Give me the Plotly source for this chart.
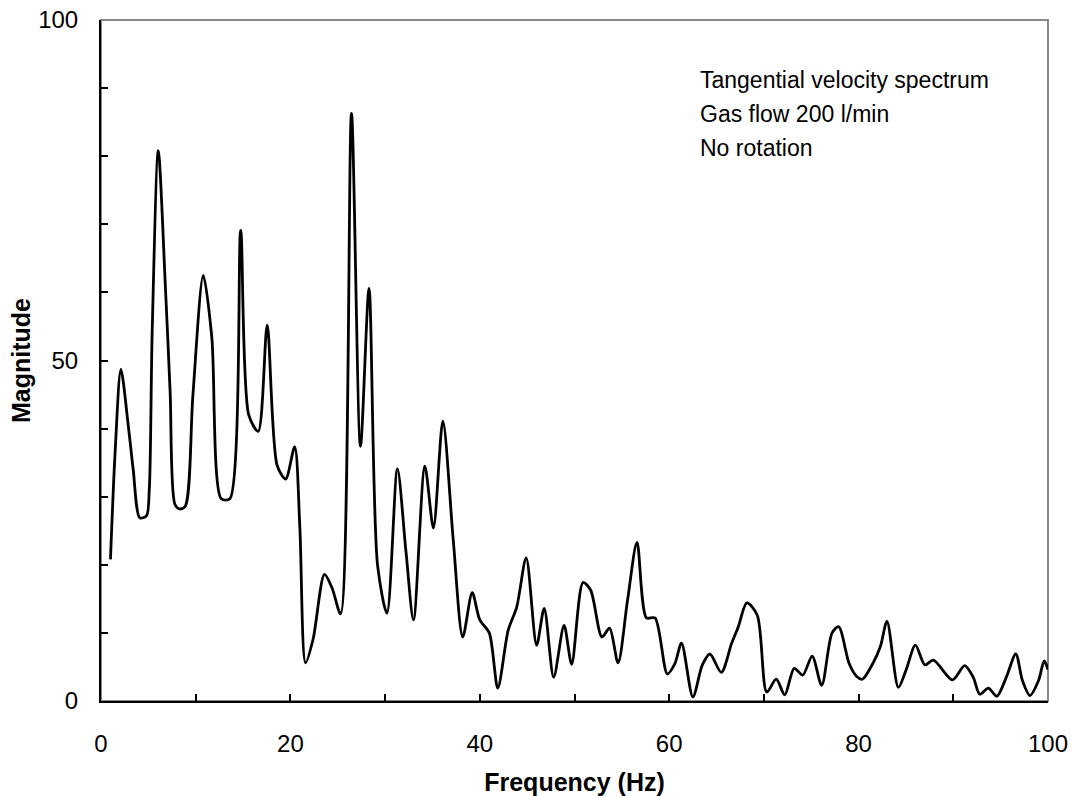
import plotly.graph_objects as go

freq = [1.0, 1.5, 2.1, 2.9, 3.4, 4.1, 4.8, 5.1, 5.4, 6.05, 6.8, 7.3, 7.8, 8.3, 8.9,
        9.7, 10.8, 11.7, 12.7, 13.6, 14.75, 15.6, 16.6, 17.55, 18.6, 19.5, 20.45,
        21.0, 21.6, 22.4, 23.6, 24.4, 25.3, 26.45, 27.4, 28.3, 29.2, 30.2, 31.3,
        32.2, 33.0, 34.2, 35.1, 36.1, 37.2, 38.2, 39.2, 40.0, 41.0, 41.9, 43.0,
        43.9, 44.9, 46.0, 46.8, 47.8, 48.9, 49.7, 50.9, 51.7, 52.9, 53.7, 54.6,
        55.6, 56.6, 57.6, 58.5, 59.8, 60.6, 61.3, 62.5, 63.5, 64.3, 65.5, 66.6,
        67.3, 68.2, 69.3, 70.3, 71.3, 72.2, 73.2, 74.1, 75.1, 76.1, 77.2, 77.9,
        79.0, 79.8, 80.4, 81.5, 82.3, 83.0, 84.2, 85.0, 86.0, 87.0, 87.9, 89.9,
        91.2, 92.1, 92.8, 93.7, 94.6, 95.6, 96.6, 97.3, 98.1, 99.0, 99.6, 100.0]
magnitude = [20.8, 36.8, 48.7, 40.2, 34.0, 26.9, 27.2, 31.1, 54.0, 80.8, 60.8, 45.4, 28.9, 28.2, 28.6,
             44.8, 62.5, 53.4, 29.7, 29.7, 69.1, 42.0, 39.6, 55.2, 34.6, 32.6, 37.3,
             25.4, 5.6, 9.1, 18.6, 16.6, 12.8, 86.3, 37.4, 60.6, 20.0, 12.9, 34.1,
             22.0, 11.9, 34.5, 25.4, 41.1, 23.6, 9.4, 15.9, 11.9, 10.0, 1.9, 10.4,
             13.8, 21.0, 8.2, 13.6, 3.5, 11.1, 5.4, 17.4, 16.3, 9.4, 10.7, 5.6,
             14.8, 23.3, 12.2, 12.2, 4.0, 5.5, 8.5, 0.6, 5.3, 6.9, 4.2, 8.5,
             10.9, 14.4, 12.6, 1.3, 3.2, 0.9, 4.8, 3.8, 6.6, 2.3, 10.0, 10.9,
             5.5, 3.6, 3.2, 5.5, 8.0, 11.7, 2.0, 4.5, 8.2, 5.3, 6.0, 3.1,
             5.2, 3.5, 1.0, 1.9, 0.7, 3.5, 6.9, 3.0, 0.8, 3.0, 5.9, 4.6]

x_ticks = [0, 20, 40, 60, 80, 100]
y_ticks = [0, 50, 100]
notes = ["Tangential velocity spectrum", "Gas flow 200 l/min", "No rotation"]
note_y = [91.2, 86.2, 81.2]
note_x = 63.0

FONT = "Arial, Liberation Sans, sans-serif"

fig = go.Figure()
fig.add_trace(go.Scatter(x=freq, y=magnitude, mode="lines",
                         line=dict(color="black", width=2.8, shape="spline", smoothing=0.8),
                         showlegend=False, hoverinfo="x+y"))

fig.add_shape(type="rect", xref="x domain", yref="y domain", x0=0, x1=1, y0=0, y1=1,
              line=dict(color="#888888", width=2), layer="below")

for t, yy in zip(notes, note_y):
    fig.add_annotation(x=note_x, y=yy, xref="x", yref="y", text=t, showarrow=False,
                       xanchor="left", yanchor="middle",
                       font=dict(family=FONT, size=23, color="black"))

fig.update_layout(
    width=1072, height=796,
    margin=dict(l=101, r=24, t=20, b=95),
    paper_bgcolor="white", plot_bgcolor="white",
    font=dict(family=FONT, size=24, color="black"),
    xaxis=dict(range=[0, 100], tickvals=x_ticks, ticks="inside", ticklen=7, tickwidth=1.5,
               tickcolor="black", showline=True, linecolor="black", linewidth=2,
               showgrid=False, zeroline=False, ticklabelstandoff=20, automargin=False,
               minor=dict(dtick=10, ticks="inside", ticklen=7, tickwidth=1.5, tickcolor="black", showgrid=False),
               title=dict(text="<b>Frequency (Hz)</b>", font=dict(family=FONT, size=25), standoff=18),
               fixedrange=True),
    yaxis=dict(range=[0, 100], tickvals=y_ticks, ticks="inside", ticklen=7, tickwidth=1.5,
               tickcolor="black", showline=True, linecolor="black", linewidth=2,
               showgrid=False, zeroline=False, ticklabelstandoff=16, automargin=False,
               minor=dict(dtick=10, ticks="inside", ticklen=7, tickwidth=1.5, tickcolor="black", showgrid=False),
               title=dict(text="<b>Magnitude</b>", font=dict(family=FONT, size=25), standoff=0),
               fixedrange=True),
)

fig.write_html("out.html", config={"displayModeBar": False},
               post_script="document.body.style.margin='0';document.body.style.overflow='hidden';")
